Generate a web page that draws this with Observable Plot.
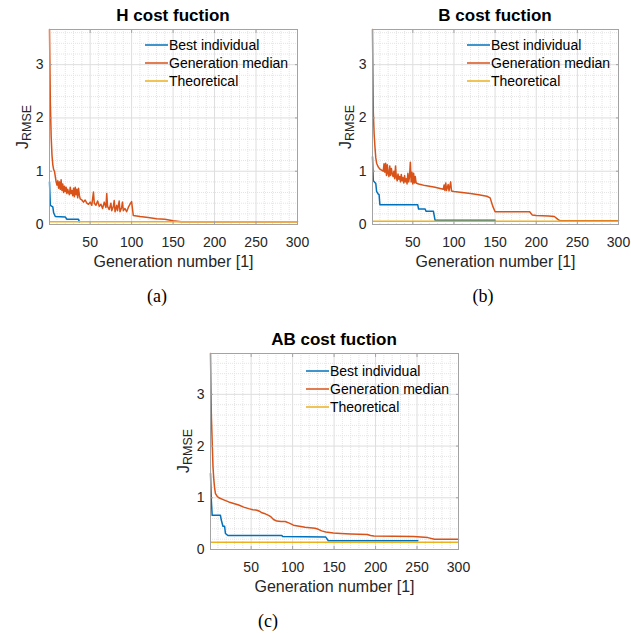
<!DOCTYPE html>
<html><head><meta charset="utf-8">
<script src="https://cdn.jsdelivr.net/npm/d3@7"></script>
<script src="https://cdn.jsdelivr.net/npm/@observablehq/plot@0.6"></script>
<style>
body{margin:0;background:#fff;}
#wrap{position:relative;width:631px;height:633px;font-family:"Liberation Sans",Arial,Helvetica,sans-serif;color:#262626;overflow:hidden;}
.abs{position:absolute;white-space:nowrap;}
.title{font-weight:bold;font-size:17px;line-height:17px;color:#000;transform:translateX(-50%);}
.cap{font-family:"Liberation Serif","Times New Roman",serif;font-size:18px;line-height:18px;color:#000;transform:translateX(-50%);}
.ylab{font-size:16px;line-height:16px;transform:translate(-50%,-50%) rotate(-90deg);}
.ylab sub{font-size:12.5px;vertical-align:-3px;line-height:0;}
.leg{font-size:14px;line-height:18px;color:#000;}
.leg .row{display:flex;align-items:center;height:18px;}
.leg svg{display:block;margin-right:1px;}
</style></head><body><div id="wrap"></div>
<script>
// ---------- data ----------
const seriesNames = ["Best individual", "Generation median", "Theoretical"];
const seriesColors = ["#0072BD", "#D95319", "#EDB120"];
const xTicks = [50, 100, 150, 200, 250, 300];
const xMinorTicks = [10,20,30,40,60,70,80,90,110,120,130,140,160,170,180,190,210,220,230,240,260,270,280,290];
const yTicks = [0, 1, 2, 3];
const yMinorTicks = [0.2,0.4,0.6,0.8,1.2,1.4,1.6,1.8,2.2,2.4,2.6,2.8,3.2,3.4,3.6];

// (a) H cost function  [generation, J_RMSE]
const hBest = [[1,0.80],[2,0.36],[5,0.33],[6,0.22],[8,0.15],[20,0.14],[22,0.10],[36,0.10],[37,0.05]];
const hMedian = [[1,3.66],[2,2.3],[3,1.65],[4,1.3],[5,1.12],[6,1.03],[7,1.0],[8,0.9],[9,0.8],[10,0.74],
 [11,0.82],[12,0.68],[13,0.8],[14,0.66],[15,0.84],[16,0.64],[17,0.76],[18,0.6],[19,0.72],[20,0.62],
 [21,0.7],[22,0.58],[23,0.66],[24,0.6],[25,0.56],[26,0.7],[27,0.58],[28,0.64],[29,0.54],[30,0.68],
 [31,0.52],[32,0.7],[33,0.56],[34,0.66],[35,0.5],[36,0.68],[37,0.55],[38,0.48],[40,0.46],[42,0.42],
 [44,0.46],[46,0.4],[48,0.38],[50,0.42],[52,0.36],[54,0.61],[55,0.4],[57,0.36],[59,0.44],[61,0.34],
 [63,0.38],[65,0.3],[67,0.42],[69,0.32],[70,0.58],[71,0.34],[73,0.28],[75,0.4],[76,0.26],[78,0.34],
 [79,0.45],[80,0.24],[82,0.36],[83,0.26],[85,0.44],[86,0.24],[88,0.32],[89,0.42],[90,0.26],[92,0.3],
 [94,0.24],[96,0.32],[98,0.38],[100,0.43],[101,0.3],[102,0.17],[110,0.15],[120,0.13],[130,0.11],
 [140,0.1],[150,0.07],[160,0.05],[300,0.05]];
const hTheoretical = 0.05;
const hMax = 3.66;

// (b) B cost function
const bBest = [[1,1.27],[2,0.82],[5,0.77],[6,0.62],[8,0.57],[9,0.56],[10,0.37],[56,0.37],[57,0.29],
 [65,0.29],[66,0.25],[75,0.25],[77,0.08],[150,0.08]];
const bMedian = [[1,3.66],[2,2.1],[3,1.7],[4,1.45],[5,1.25],[6,1.15],[8,1.08],[10,1.04],[14,1.0],
 [15,1.14],[16,0.98],[17,1.15],[18,0.92],[19,1.12],[20,0.95],[21,0.9],[22,1.1],[23,0.92],[24,1.05],
 [25,0.95],[26,0.9],[27,1.0],[28,0.86],[29,1.1],[30,0.88],[31,0.82],[32,0.95],[33,0.85],[34,0.9],
 [35,0.8],[36,0.94],[37,0.82],[38,0.88],[39,0.78],[40,0.92],[41,0.8],[42,0.86],[43,0.76],[44,0.96],
 [45,0.8],[46,0.9],[47,1.17],[48,0.8],[49,0.98],[50,0.76],[51,0.96],[52,0.78],[53,0.9],[54,0.78],
 [57,0.76],[65,0.73],[77,0.7],[87,0.66],[88,0.74],[89,0.64],[90,0.78],[91,0.64],[93,0.75],[94,0.63],
 [96,0.8],[97,0.63],[100,0.62],[110,0.6],[120,0.58],[130,0.56],[140,0.53],[144,0.5],[147,0.35],
 [150,0.24],[192,0.24],[195,0.18],[200,0.17],[215,0.16],[222,0.15],[226,0.1],[229,0.07],[300,0.07]];
const bTheoretical = 0.06;
const bMax = 3.66;

// (c) AB cost function
const abBest = [[1,1.47],[2,0.95],[3,0.66],[13,0.66],[14,0.57],[16,0.45],[18,0.45],[19,0.31],[22,0.27],
 [87,0.27],[88,0.25],[140,0.24],[143,0.17],[251,0.17]];
const abMedian = [[1,3.79],[2,2.6],[3,2.1],[4,1.6],[5,1.35],[6,1.18],[7,1.08],[9,1.03],[11,1.0],
 [17,0.96],[23,0.92],[29,0.89],[35,0.86],[41,0.82],[47,0.79],[52,0.77],[57,0.76],[60,0.74],[63,0.71],
 [67,0.69],[71,0.66],[74,0.63],[77,0.58],[81,0.55],[86,0.54],[91,0.54],[96,0.51],[101,0.47],[108,0.45],
 [115,0.43],[121,0.42],[127,0.41],[131,0.39],[135,0.36],[140,0.34],[149,0.32],[158,0.31],[170,0.3],
 [190,0.29],[194,0.27],[198,0.26],[246,0.25],[263,0.23],[271,0.2],[300,0.2]];
const abTheoretical = 0.14;
const abMax = 3.79;

// ---------- layout ----------
const FONT = '"Liberation Sans",Arial,Helvetica,sans-serif';
const wrap = document.getElementById("wrap");
function addDiv(cls, html, left, top) {
  const d = document.createElement("div");
  d.className = "abs " + cls;
  d.innerHTML = html;
  d.style.left = left + "px";
  d.style.top = top + "px";
  wrap.appendChild(d);
  return d;
}

function panel(p) {
  const W = 320, H = 275;
  const toRows = arr => arr.map(([g, v]) => ({g, v}));
  const axisColor = "#a3a3a3";
  const svg = Plot.plot({
    width: W, height: H,
    marginLeft: 49, marginRight: p.mr, marginTop: 29, marginBottom: p.mb,
    x: {domain: [1, 300]},
    y: {domain: [0, p.ymax]},
    style: {fontFamily: FONT, fontSize: "14px", color: "#262626", background: "transparent", overflow: "visible"},
    marks: [
      Plot.gridX(xMinorTicks, {stroke: "#e4e4e4", strokeOpacity: 1, strokeDasharray: "1,1"}),
      Plot.gridY(yMinorTicks.filter(t => t < p.ymax), {stroke: "#e4e4e4", strokeOpacity: 1, strokeDasharray: "1,1"}),
      Plot.gridX(xTicks, {stroke: "#dedede", strokeOpacity: 1}),
      Plot.gridY(yTicks, {stroke: "#dedede", strokeOpacity: 1}),
      Plot.line(toRows(p.best), {x: "g", y: "v", stroke: seriesColors[0], strokeWidth: 1.5}),
      Plot.line(toRows(p.median), {x: "g", y: "v", stroke: seriesColors[1], strokeWidth: 1.5}),
      Plot.ruleY([p.theo], {stroke: seriesColors[2], strokeWidth: 1.5}),
      Plot.frame({stroke: axisColor}),
      Plot.axisX(xTicks, {anchor: "bottom", tickSize: -3, stroke: axisColor, tickFormat: () => "", label: null}),
      Plot.axisX(xTicks, {anchor: "top", tickSize: -3, stroke: axisColor, tickFormat: () => "", label: null}),
      Plot.axisY(yTicks, {anchor: "left", tickSize: -3, stroke: axisColor, tickFormat: () => "", label: null}),
      Plot.axisY(yTicks, {anchor: "right", tickSize: -3, stroke: axisColor, tickFormat: () => "", label: null}),
      Plot.axisX(xTicks, {anchor: "bottom", tickSize: 0, tickPadding: 13, label: null, fill: "#262626", fontSize: 14, tickFormat: d => String(d)}),
      Plot.axisY(yTicks, {anchor: "left", tickSize: 0, tickPadding: 6, label: null, fill: "#262626", fontSize: 14, tickFormat: d => String(d)}),
      Plot.text(["Generation number [1]"], {frameAnchor: "bottom", dy: 42, fontSize: 16, fill: "#262626"})
    ]
  });
  svg.style.position = "absolute";
  svg.style.left = p.left + "px";
  svg.style.top = p.top + "px";
  wrap.appendChild(svg);

  const plotLeft = p.left + 49, plotRight = p.left + W - p.mr;
  const cx = (plotLeft + plotRight) / 2;
  addDiv("title", p.title, cx, p.top + 7.3);
  addDiv("ylab", "J<sub>RMSE</sub>", p.left + 23, p.top + 29 + (H - p.mb - 29) / 2);
  addDiv("leg", seriesNames.map((n, i) =>
    `<div class="row"><svg width="23" height="4"><line x1="0" x2="23" y1="2" y2="2" stroke="${seriesColors[i]}" stroke-width="1.5"/></svg><span>${n}</span></div>`
  ).join(""), p.legX, p.top + 36 + p.legDy);
  addDiv("cap", p.caption, p.capX, p.capTop);
}

panel({title: "H cost fuction", best: hBest, median: hMedian, theo: hTheoretical, ymax: hMax,
  left: 0, top: 0, mr: 23, mb: 51, legX: 145, legDy: 0, caption: "(a)", capX: 157, capTop: 286.7});
panel({title: "B cost fuction", best: bBest, median: bMedian, theo: bTheoretical, ymax: bMax,
  left: 323, top: 0, mr: 25, mb: 51, legX: 467, legDy: 0, caption: "(b)", capX: 483, capTop: 286.7});
panel({title: "AB cost fuction", best: abBest, median: abMedian, theo: abTheoretical, ymax: abMax,
  left: 161, top: 324, mr: 23, mb: 50, legX: 306, legDy: 1.7, caption: "(c)", capX: 268, capTop: 611.7});
</script>
</body></html>
